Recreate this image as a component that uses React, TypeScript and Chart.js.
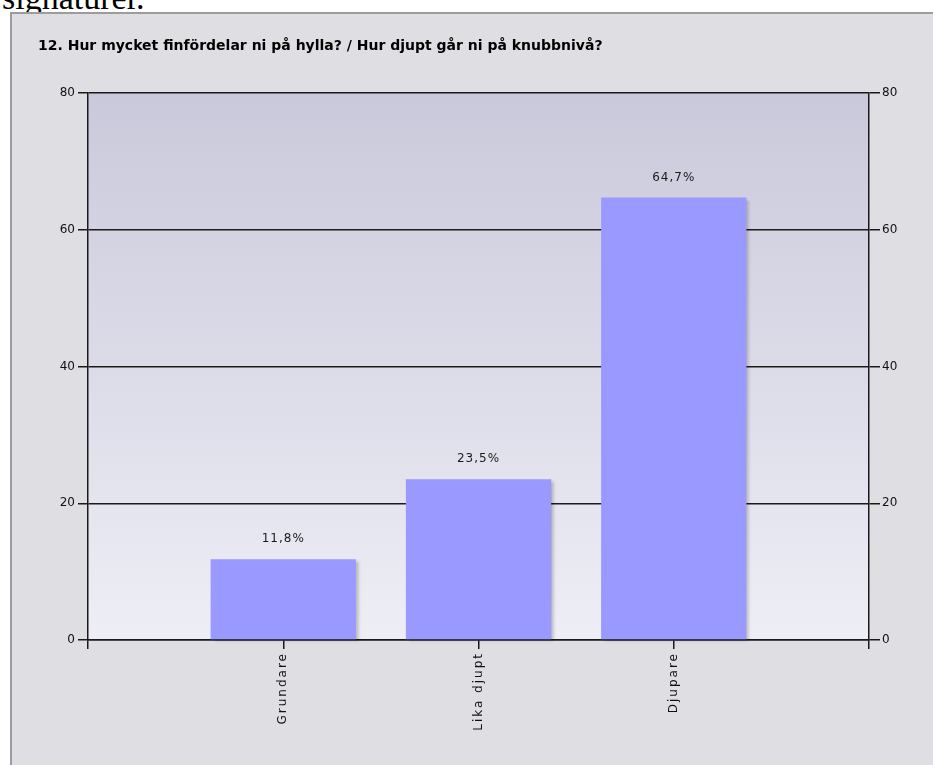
import React, { useEffect, useRef } from "react";
import { Chart, registerables } from "chart.js";

Chart.register(...registerables);

const TITLE = "12. Hur mycket finfördelar ni på hylla? / Hur djupt går ni på knubbnivå?";
const CATEGORIES = ["", "Grundare", "Lika djupt", "Djupare", ""];
const VALUES: (number | null)[] = [null, 11.8, 23.5, 64.7, null];
const Y_MIN = 0;
const Y_MAX = 80;
const Y_STEP = 20;

const FONT = "'DejaVu Sans', sans-serif";
const AXIS_COLOR = "#1a1a1a";

const bgPlugin = {
  id: "plotBg",
  beforeDraw(chart: any) {
    const { ctx, chartArea } = chart;
    if (!chartArea) return;
    const g = ctx.createLinearGradient(0, chartArea.top, 0, chartArea.bottom);
    g.addColorStop(0, "#c9c9db");
    g.addColorStop(1, "#eeeef6");
    ctx.save();
    ctx.fillStyle = g;
    ctx.fillRect(chartArea.left, chartArea.top, chartArea.right - chartArea.left, chartArea.bottom - chartArea.top);
    ctx.restore();
  },
};

const shadowPlugin = {
  id: "barShadow",
  beforeDatasetDraw(chart: any) {
    const ctx = chart.ctx;
    ctx.save();
    ctx.shadowColor = "rgba(0,0,0,0.22)";
    ctx.shadowBlur = 3;
    ctx.shadowOffsetX = 3;
    ctx.shadowOffsetY = 2;
  },
  afterDatasetDraw(chart: any) {
    chart.ctx.restore();
  },
};

const labelsPlugin = {
  id: "valueLabels",
  afterDraw(chart: any) {
    const { ctx } = chart;
    const meta = chart.getDatasetMeta(0);
    const data = chart.data.datasets[0].data as (number | null)[];
    ctx.save();
    ctx.fillStyle = "#1a1a1a";
    ctx.font = `12px ${FONT}`;
    ctx.textAlign = "center";
    ctx.textBaseline = "middle";
    (ctx as any).letterSpacing = "1px";
    meta.data.forEach((el: any, i: number) => {
      const v = data[i];
      if (v === null || v === undefined) return;
      const txt = `${v.toFixed(1).replace(".", ",")}%`;
      ctx.fillText(txt, el.x, el.y - 20);
    });
    // rotated category labels
    const xs = chart.scales.x;
    ctx.font = `12px ${FONT}`;
    ctx.fillStyle = "#111";
    ctx.textAlign = "right";
    ctx.textBaseline = "middle";
    (ctx as any).letterSpacing = "2px";
    xs.ticks.forEach((t: any, i: number) => {
      const label = xs.getLabelForValue(t.value);
      if (!label) return;
      const px = xs.getPixelForTick(i);
      ctx.save();
      ctx.translate(px, xs.top + 9 + 3);
      ctx.rotate(-Math.PI / 2);
      ctx.fillText(label, 0, 0);
      ctx.restore();
    });
    ctx.restore();
  },
};

export default function App() {
  const ref = useRef<HTMLCanvasElement | null>(null);

  useEffect(() => {
    if (!ref.current) return;
    const chart = new Chart(ref.current, {
      type: "bar",
      data: {
        labels: CATEGORIES,
        datasets: [
          {
            data: VALUES,
            backgroundColor: "#9999ff",
            borderWidth: 0,
            barPercentage: 0.744,
            categoryPercentage: 1,
            clip: false as any,
          },
        ],
      },
      options: {
        animation: false,
        responsive: false,
        maintainAspectRatio: false,
        devicePixelRatio: 1,
        layout: { padding: { left: 38, right: 0, top: 0, bottom: 0 } },
        plugins: {
          legend: { display: false },
          tooltip: { enabled: false },
          title: {
            display: true,
            text: TITLE,
            align: "start",
            color: "#000",
            font: { family: FONT, size: 14, weight: "bold" },
            padding: { top: 38.1, bottom: 38.1 },
          },
        },
        scales: {
          x: {
            type: "category",
            offset: false,
            grid: {
              offset: false,
              drawOnChartArea: false,
              drawTicks: true,
              tickLength: 9,
              color: AXIS_COLOR,
              lineWidth: 1.5,
            },
            border: { color: AXIS_COLOR, width: 1.5 },
            ticks: {
              color: "rgba(0,0,0,0)",
              autoSkip: false,
              minRotation: 90,
              maxRotation: 90,
              padding: 3,
              font: { family: FONT, size: 11 },
            },
            afterFit: (s: any) => {
              s.height = 125;
            },
          },
          y: {
            position: "left",
            min: Y_MIN,
            max: Y_MAX,
            ticks: {
              stepSize: Y_STEP,
              padding: 3,
              color: "#111",
              font: { family: FONT, size: 12 },
            },
            grid: { color: AXIS_COLOR, tickLength: 10, lineWidth: 1.5 },
            border: { color: AXIS_COLOR, width: 1.5 },
            afterFit: (s: any) => {
              s.width = 50;
            },
          },
          y2: {
            position: "right",
            min: Y_MIN,
            max: Y_MAX,
            ticks: {
              stepSize: Y_STEP,
              padding: 2,
              color: "#111",
              font: { family: FONT, size: 12 },
            },
            grid: { drawOnChartArea: false, color: AXIS_COLOR, tickLength: 11, lineWidth: 1.5 },
            border: { color: AXIS_COLOR, width: 1.5 },
            afterFit: (s: any) => {
              s.width = 64;
            },
          },
        },
      },
      plugins: [bgPlugin, shadowPlugin, labelsPlugin],
    });
    return () => chart.destroy();
  }, []);

  return (
    <div
      style={{
        position: "fixed",
        left: 0,
        top: 0,
        width: 933,
        height: 765,
        overflow: "hidden",
        background: "#ffffff",
      }}
    >
      <div
        style={{
          position: "absolute",
          left: 2,
          top: -19,
          fontFamily: "'Liberation Serif', 'Times New Roman', serif",
          fontSize: 34,
          lineHeight: "34px",
          color: "#000",
          whiteSpace: "nowrap",
        }}
      >
        signaturer.
      </div>
      <div
        style={{
          position: "absolute",
          left: 10,
          top: 12,
          right: -10,
          bottom: -10,
          background: "#dfdfe3",
          borderLeft: "2px solid #9c9c9c",
          borderTop: "2px solid #9c9c9c",
        }}
      />
      <canvas
        ref={ref}
        width={933}
        height={765}
        style={{ position: "absolute", left: 0, top: 0, width: 933, height: 765 }}
      />
    </div>
  );
}
